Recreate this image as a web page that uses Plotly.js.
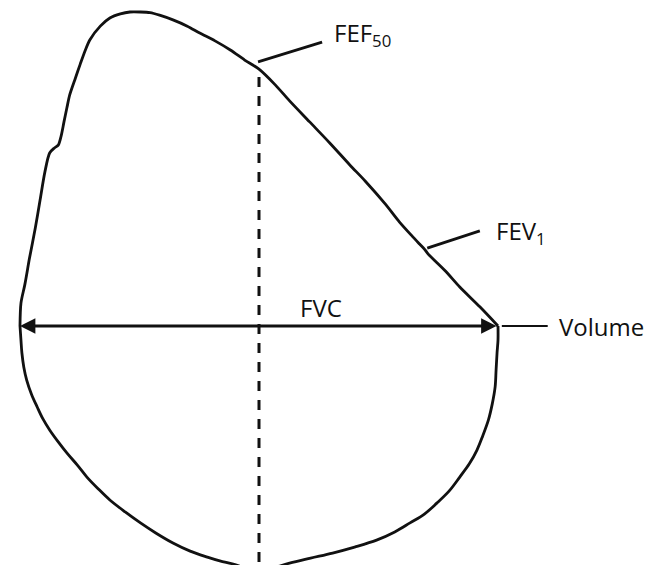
<!DOCTYPE html>
<html>
<head>
<meta charset="utf-8">
<script src="https://cdn.plot.ly/plotly-3.0.1.min.js"></script>
<style>html,body{margin:0;padding:0;background:#fff;}#chart{width:658px;height:565px;}</style>
</head>
<body>
<div id="chart"></div>
<script>
// Expiratory limb (volume in L, flow in L/s)
var expVolume = [0, 0.01, 0.05, 0.10, 0.16, 0.21, 0.26, 0.31, 0.36, 0.40, 0.43, 0.46, 0.49, 0.52, 0.58, 0.63, 0.68, 0.73, 0.84, 0.94, 1.05, 1.15, 1.26, 1.36, 1.46, 1.60, 1.75, 1.88, 2.04, 2.20, 2.35, 2.50, 2.67, 2.82, 3.03, 3.24, 3.45, 3.61, 3.82, 3.97, 4.10, 4.18, 4.23, 4.27, 4.45, 4.60, 4.81, 5.0];
var expFlow   = [0, 0.73, 1.31, 2.17, 3.12, 4.01, 4.90, 5.51, 5.67, 5.76, 6.05, 6.50, 6.94, 7.36, 7.90, 8.34, 8.76, 9.11, 9.55, 9.81, 9.94, 10.0, 10.0, 9.98, 9.90, 9.75, 9.55, 9.33, 9.08, 8.79, 8.47, 8.18, 7.68, 7.17, 6.50, 5.83, 5.13, 4.62, 3.89, 3.31, 2.87, 2.61, 2.45, 2.29, 1.75, 1.24, 0.61, 0];
// Inspiratory limb
var inspVolume = [0, 0.01, 0.02, 0.04, 0.07, 0.12, 0.18, 0.24, 0.31, 0.40, 0.49, 0.60, 0.70, 0.82, 0.94, 1.10, 1.26, 1.42, 1.60, 1.78, 1.96, 2.09, 2.23, 2.36, 2.49, 2.64, 2.82, 3.04, 3.27, 3.50, 3.73, 3.92, 4.08, 4.23, 4.36, 4.49, 4.60, 4.70, 4.78, 4.84, 4.90, 4.94, 4.97, 4.98, 4.99, 5.0, 5.0];
var inspFlow   = [0, -0.45, -0.86, -1.31, -1.72, -2.17, -2.58, -2.96, -3.31, -3.69, -4.04, -4.43, -4.81, -5.19, -5.54, -5.92, -6.27, -6.59, -6.91, -7.17, -7.36, -7.48, -7.58, -7.71, -7.80, -7.71, -7.55, -7.39, -7.23, -7.04, -6.82, -6.56, -6.27, -5.99, -5.64, -5.25, -4.81, -4.39, -3.95, -3.50, -2.99, -2.48, -1.94, -1.40, -0.86, -0.45, 0];
// Key values
var FVC = 5.0;
var fef50Volume = 2.5, fef50Flow = 8.18;
var loopMinFlow = -7.80;
// Labels
var labelTexts = ['FEF<sub>50</sub>', 'FEV<sub>1</sub>', 'FVC', 'Volume'];
var labelVolume = [3.26, 4.96, 3.15, 5.62];
var labelFlow   = [9.30, 2.98, 0.60, 0.0];
// Leader lines
var fefLeaderV = [2.49, 3.16], fefLeaderF = [8.41, 9.04];
var fevLeaderV = [4.26, 4.81], fevLeaderF = [2.48, 3.03];
var volAxisV = [5.04, 5.52], volAxisF = [0, 0];

var black = '#111';
var traces = [
  {x: expVolume, y: expFlow, mode: 'lines', line: {color: black, width: 2.8, shape: 'spline', smoothing: 0.8}, hoverinfo: 'skip'},
  {x: inspVolume, y: inspFlow, mode: 'lines', line: {color: black, width: 2.8, shape: 'spline', smoothing: 1}, hoverinfo: 'skip'},
  {x: [fef50Volume, fef50Volume], y: [fef50Flow - 0.25, loopMinFlow], mode: 'lines', line: {color: black, width: 3, dash: '10px,9px'}, hoverinfo: 'skip'},
  {x: fefLeaderV, y: fefLeaderF, mode: 'lines', line: {color: black, width: 2.8}, hoverinfo: 'skip'},
  {x: fevLeaderV, y: fevLeaderF, mode: 'lines', line: {color: black, width: 2.8}, hoverinfo: 'skip'},
  {x: volAxisV, y: volAxisF, mode: 'lines', line: {color: black, width: 2.2}, hoverinfo: 'skip'}
];

var font = {family: 'Open Sans, sans-serif', size: 24, color: '#111'};
var annotations = [
  {x: 0, y: 0, ax: FVC, ay: 0, axref: 'x', ayref: 'y', xref: 'x', yref: 'y', text: '', showarrow: true,
   arrowhead: 2, arrowside: 'end+start', arrowsize: 1.1, arrowwidth: 2.8, arrowcolor: black}
];
var anchors = ['left', 'left', 'center', 'left'];
for (var i = 0; i < labelTexts.length; i++) {
  annotations.push({x: labelVolume[i], y: labelFlow[i], xref: 'x', yref: 'y', text: labelTexts[i],
    showarrow: false, xanchor: anchors[i], yanchor: 'middle', font: font});
}

var layout = {
  width: 658, height: 565,
  margin: {l: 0, r: 0, t: 0, b: 0},
  paper_bgcolor: '#fff', plot_bgcolor: '#fff',
  showlegend: false,
  xaxis: {range: [-0.2092, 6.6736], visible: false, fixedrange: true},
  yaxis: {range: [-7.611, 10.382], visible: false, fixedrange: true},
  annotations: annotations
};
Plotly.newPlot('chart', traces, layout, {staticPlot: true, displayModeBar: false});
</script>
</body>
</html>
